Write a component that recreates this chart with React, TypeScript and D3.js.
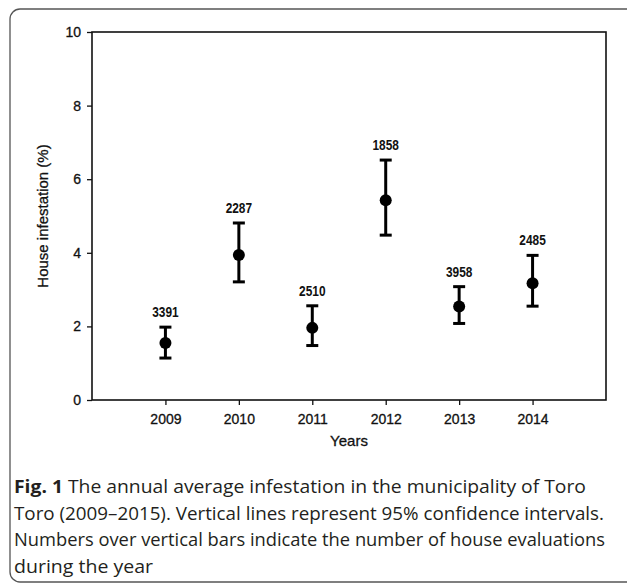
import React, { useEffect, useRef } from "react";
import * as d3 from "d3";

// chart values
const years = [2009, 2010, 2011, 2012, 2013, 2014];
const means = [1.55, 3.94, 1.96, 5.43, 2.54, 3.17];
const lower = [1.14, 3.21, 1.48, 4.48, 2.08, 2.55];
const upper = [1.98, 4.81, 2.56, 6.52, 3.08, 3.93];
const evaluations = ["3391", "2287", "2510", "1858", "3958", "2485"];
const yTicks = [0, 2, 4, 6, 8, 10];

const captionLines = [
  "The annual average infestation in the municipality of Toro",
  "Toro (2009\u20132015). Vertical lines represent 95% confidence intervals.",
  "Numbers over vertical bars indicate the number of house evaluations",
  "during the year",
];
// measured widths of the caption lines in the figure
const captionWidths = [572, 590, 591, 139];

const W = 627;
const H = 584;

const App = () => {
  const svgRef = useRef<SVGSVGElement>(null);

  useEffect(() => {
    const svg = d3.select(svgRef.current);
    svg.selectAll("*").remove();

    // outer box of the figure
    svg
      .append("rect")
      .attr("x", 10)
      .attr("y", 9)
      .attr("width", 640)
      .attr("height", 573)
      .attr("rx", 10)
      .attr("fill", "none")
      .attr("stroke", "#555")
      .attr("stroke-width", 1.3);

    const margin = { top: 32, left: 92, right: 21, bottom: 184 };
    const innerWidth = W - margin.left - margin.right;
    const innerHeight = H - margin.top - margin.bottom;

    const g = svg
      .append("g")
      .attr("transform", `translate(${margin.left}, ${margin.top})`);

    const x = d3.scaleLinear().domain([2008, 2015]).range([0, innerWidth]);
    const y = d3.scaleLinear().domain([0, 10]).range([innerHeight, 0]);

    const tickFont = "'Liberation Sans', Arial, sans-serif";

    // y axis
    const yAxis = g
      .append("g")
      .call(d3.axisLeft(y).tickValues(yTicks).tickSize(5).tickSizeOuter(0).tickPadding(6));
    yAxis.select(".domain").remove();
    yAxis.selectAll("line").attr("stroke", "#111").attr("stroke-width", 1.3);
    yAxis
      .selectAll("text")
      .attr("fill", "#111")
      .attr("stroke", "#111")
      .attr("stroke-width", 0.3)
      .style("font-family", tickFont)
      .style("font-size", "14px");

    // x axis
    const xAxis = g
      .append("g")
      .attr("transform", `translate(0, ${innerHeight})`)
      .call(d3.axisBottom(x).tickValues(years).tickFormat(d3.format("d")).tickSize(5).tickSizeOuter(0).tickPadding(9));
    xAxis.select(".domain").remove();
    xAxis.selectAll("line").attr("stroke", "#111").attr("stroke-width", 1.3);
    xAxis
      .selectAll("text")
      .attr("fill", "#111")
      .attr("stroke", "#111")
      .attr("stroke-width", 0.3)
      .style("font-family", tickFont)
      .style("font-size", "14px");

    // plot frame
    g.append("rect")
      .attr("x", 0)
      .attr("y", 0)
      .attr("width", innerWidth)
      .attr("height", innerHeight)
      .attr("fill", "none")
      .attr("stroke", "#111")
      .attr("stroke-width", 1.6);

    // error bars
    const bars = g
      .selectAll(".ci")
      .data(years)
      .enter()
      .append("g")
      .attr("class", "ci");

    bars
      .append("line")
      .attr("x1", (d) => x(d))
      .attr("x2", (d) => x(d))
      .attr("y1", (d, i) => y(lower[i]))
      .attr("y2", (d, i) => y(upper[i]))
      .attr("stroke", "#000")
      .attr("stroke-width", 3);

    [lower, upper].forEach((arr) => {
      bars
        .append("line")
        .attr("x1", (d) => x(d) - 6)
        .attr("x2", (d) => x(d) + 6)
        .attr("y1", (d, i) => y(arr[i]))
        .attr("y2", (d, i) => y(arr[i]))
        .attr("stroke", "#000")
        .attr("stroke-width", 3);
    });

    bars
      .append("circle")
      .attr("cx", (d) => x(d))
      .attr("cy", (d, i) => y(means[i]))
      .attr("r", 6)
      .attr("fill", "#000");

    // number of evaluations above each bar (condensed look)
    bars
      .append("text")
      .attr("transform", (d, i) => `translate(${x(d)}, ${y(upper[i]) - 10}) scale(0.82, 1)`)
      .attr("text-anchor", "middle")
      .attr("fill", "#111")
      .style("font-family", tickFont)
      .style("font-weight", "bold")
      .style("font-size", "14.5px")
      .text((d, i) => evaluations[i]);

    // axis titles
    g.append("text")
      .attr("x", innerWidth / 2)
      .attr("y", innerHeight + 46)
      .attr("text-anchor", "middle")
      .attr("fill", "#111")
      .attr("stroke", "#111")
      .attr("stroke-width", 0.3)
      .style("font-family", tickFont)
      .style("font-size", "15px")
      .text("Years");

    g.append("text")
      .attr("transform", "rotate(-90)")
      .attr("x", -innerHeight / 2)
      .attr("y", -44)
      .attr("text-anchor", "middle")
      .attr("fill", "#111")
      .attr("stroke", "#111")
      .attr("stroke-width", 0.3)
      .style("font-family", tickFont)
      .style("font-size", "15px")
      .text("House infestation (%)");

    // caption
    const cap = svg
      .append("g")
      .style("font-family", "'Open Sans', 'Noto Sans', sans-serif")
      .style("font-size", "18.5px")
      .attr("fill", "#231f20");

    captionLines.forEach((line, i) => {
      const t = cap
        .append("text")
        .attr("x", 14)
        .attr("y", 493 + i * 26.7)
        .attr("textLength", captionWidths[i])
        .attr("lengthAdjust", "spacingAndGlyphs");
      if (i === 0) {
        t.append("tspan").style("font-weight", "bold").text("Fig. 1");
        t.append("tspan").text(" " + line);
      } else {
        t.text(line);
      }
    });
  }, []);

  return (
    <div style={{ position: "absolute", left: 0, top: 0 }}>
      <svg ref={svgRef} width={W} height={H} style={{ display: "block" }}></svg>
    </div>
  );
};

export default App;
